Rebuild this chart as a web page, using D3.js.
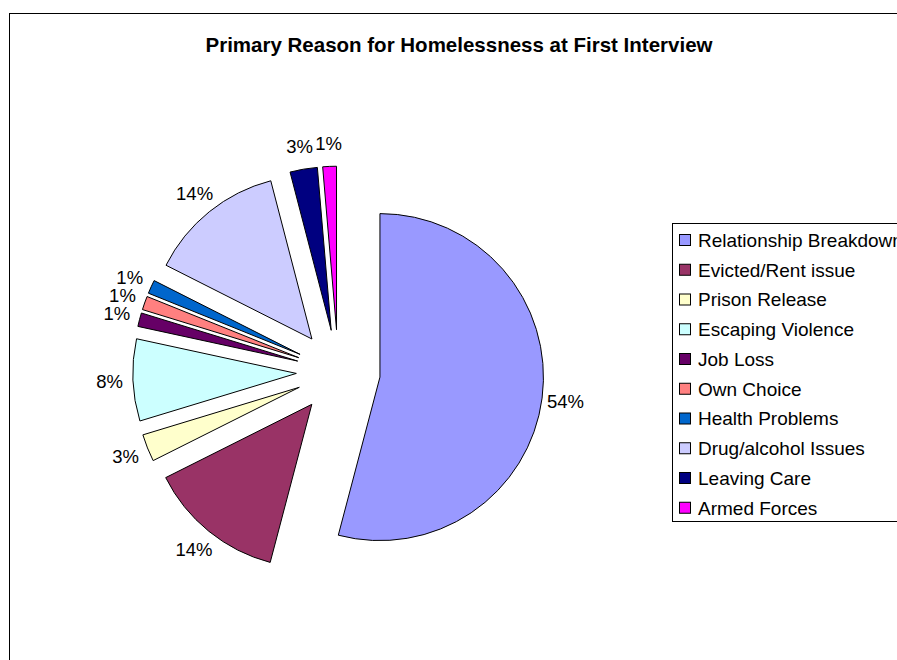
<!DOCTYPE html>
<html>
<head>
<meta charset="utf-8">
<script src="https://cdn.jsdelivr.net/npm/d3@7"></script>
<style>
  html, body { margin: 0; padding: 0; background: #fff; }
  svg { display: block; }
  text { font-family: "Liberation Sans", Arial, sans-serif; fill: #000; }
</style>
</head>
<body>
<svg id="chart" width="897" height="660"></svg>
<script>
const title = "Primary Reason for Homelessness at First Interview";
const categories = ["Relationship Breakdown", "Evicted/Rent issue", "Prison Release", "Escaping Violence", "Job Loss", "Own Choice", "Health Problems", "Drug/alcohol Issues", "Leaving Care", "Armed Forces"];
const values = [54.1, 13.5, 2.7, 8.1, 1.35, 1.35, 1.35, 13.5, 2.7, 1.35];
const colors = ["#9999FF", "#993366", "#FFFFCC", "#CCFFFF", "#660066", "#FF8080", "#0066CC", "#CCCCFF", "#000080", "#FF00FF"];

const svg = d3.select("#chart");
const W = 897, H = 660;

// chart frame (extends past the window on the right and bottom)
svg.append("rect")
  .attr("x", 9.5).attr("y", 13.5)
  .attr("width", W + 40).attr("height", H + 40)
  .attr("fill", "#fff").attr("stroke", "#000").attr("stroke-width", 1);

svg.append("text")
  .attr("x", 459).attr("y", 52)
  .attr("text-anchor", "middle")
  .style("font-size", "20.5px").style("font-weight", "bold")
  .text(title);

// pie
const cx = 338.3, cy = 371.7, r = 163.5, explode = 42, labelDist = 229;
const total = d3.sum(values);
const pie = d3.pie().sort(null).value(d => d).startAngle(0).endAngle(2 * Math.PI);
const arcs = pie(values);
const arc = d3.arc().innerRadius(0).outerRadius(r);
const color = d3.scaleOrdinal().domain(categories).range(colors);

const g = svg.append("g").attr("transform", `translate(${cx},${cy})`);

arcs.forEach((a, i) => {
  const mid = (a.startAngle + a.endAngle) / 2;
  const dx = Math.sin(mid), dy = -Math.cos(mid);
  g.append("path")
    .attr("d", arc(a))
    .attr("transform", `translate(${dx * explode},${dy * explode})`)
    .attr("fill", color(categories[i]))
    .attr("stroke", "#000")
    .attr("stroke-width", 1)
    .attr("stroke-linejoin", "miter");
  g.append("text")
    .attr("x", dx * labelDist)
    .attr("y", dy * labelDist)
    .attr("text-anchor", "middle")
    .attr("dy", "0.36em")
    .style("font-size", "18.5px")
    .text(Math.round(a.data / total * 100 + 1e-9) + "%");
});

// legend
const lx = 672.5, ly = 223.5, lh = 298, rowH = 29.75, firstRow = 240;
svg.append("rect")
  .attr("x", lx).attr("y", ly)
  .attr("width", 260).attr("height", lh)
  .attr("fill", "#fff").attr("stroke", "#000").attr("stroke-width", 1);

const leg = svg.append("g");
categories.forEach((c, i) => {
  const y = firstRow + i * rowH;
  leg.append("rect")
    .attr("x", 679.5).attr("y", y - 5.5)
    .attr("width", 11).attr("height", 11)
    .attr("fill", color(c)).attr("stroke", "#000").attr("stroke-width", 1);
  leg.append("text")
    .attr("x", 698).attr("y", y)
    .attr("dy", "0.36em")
    .style("font-size", "19px")
    .text(c);
});
</script>
</body>
</html>
